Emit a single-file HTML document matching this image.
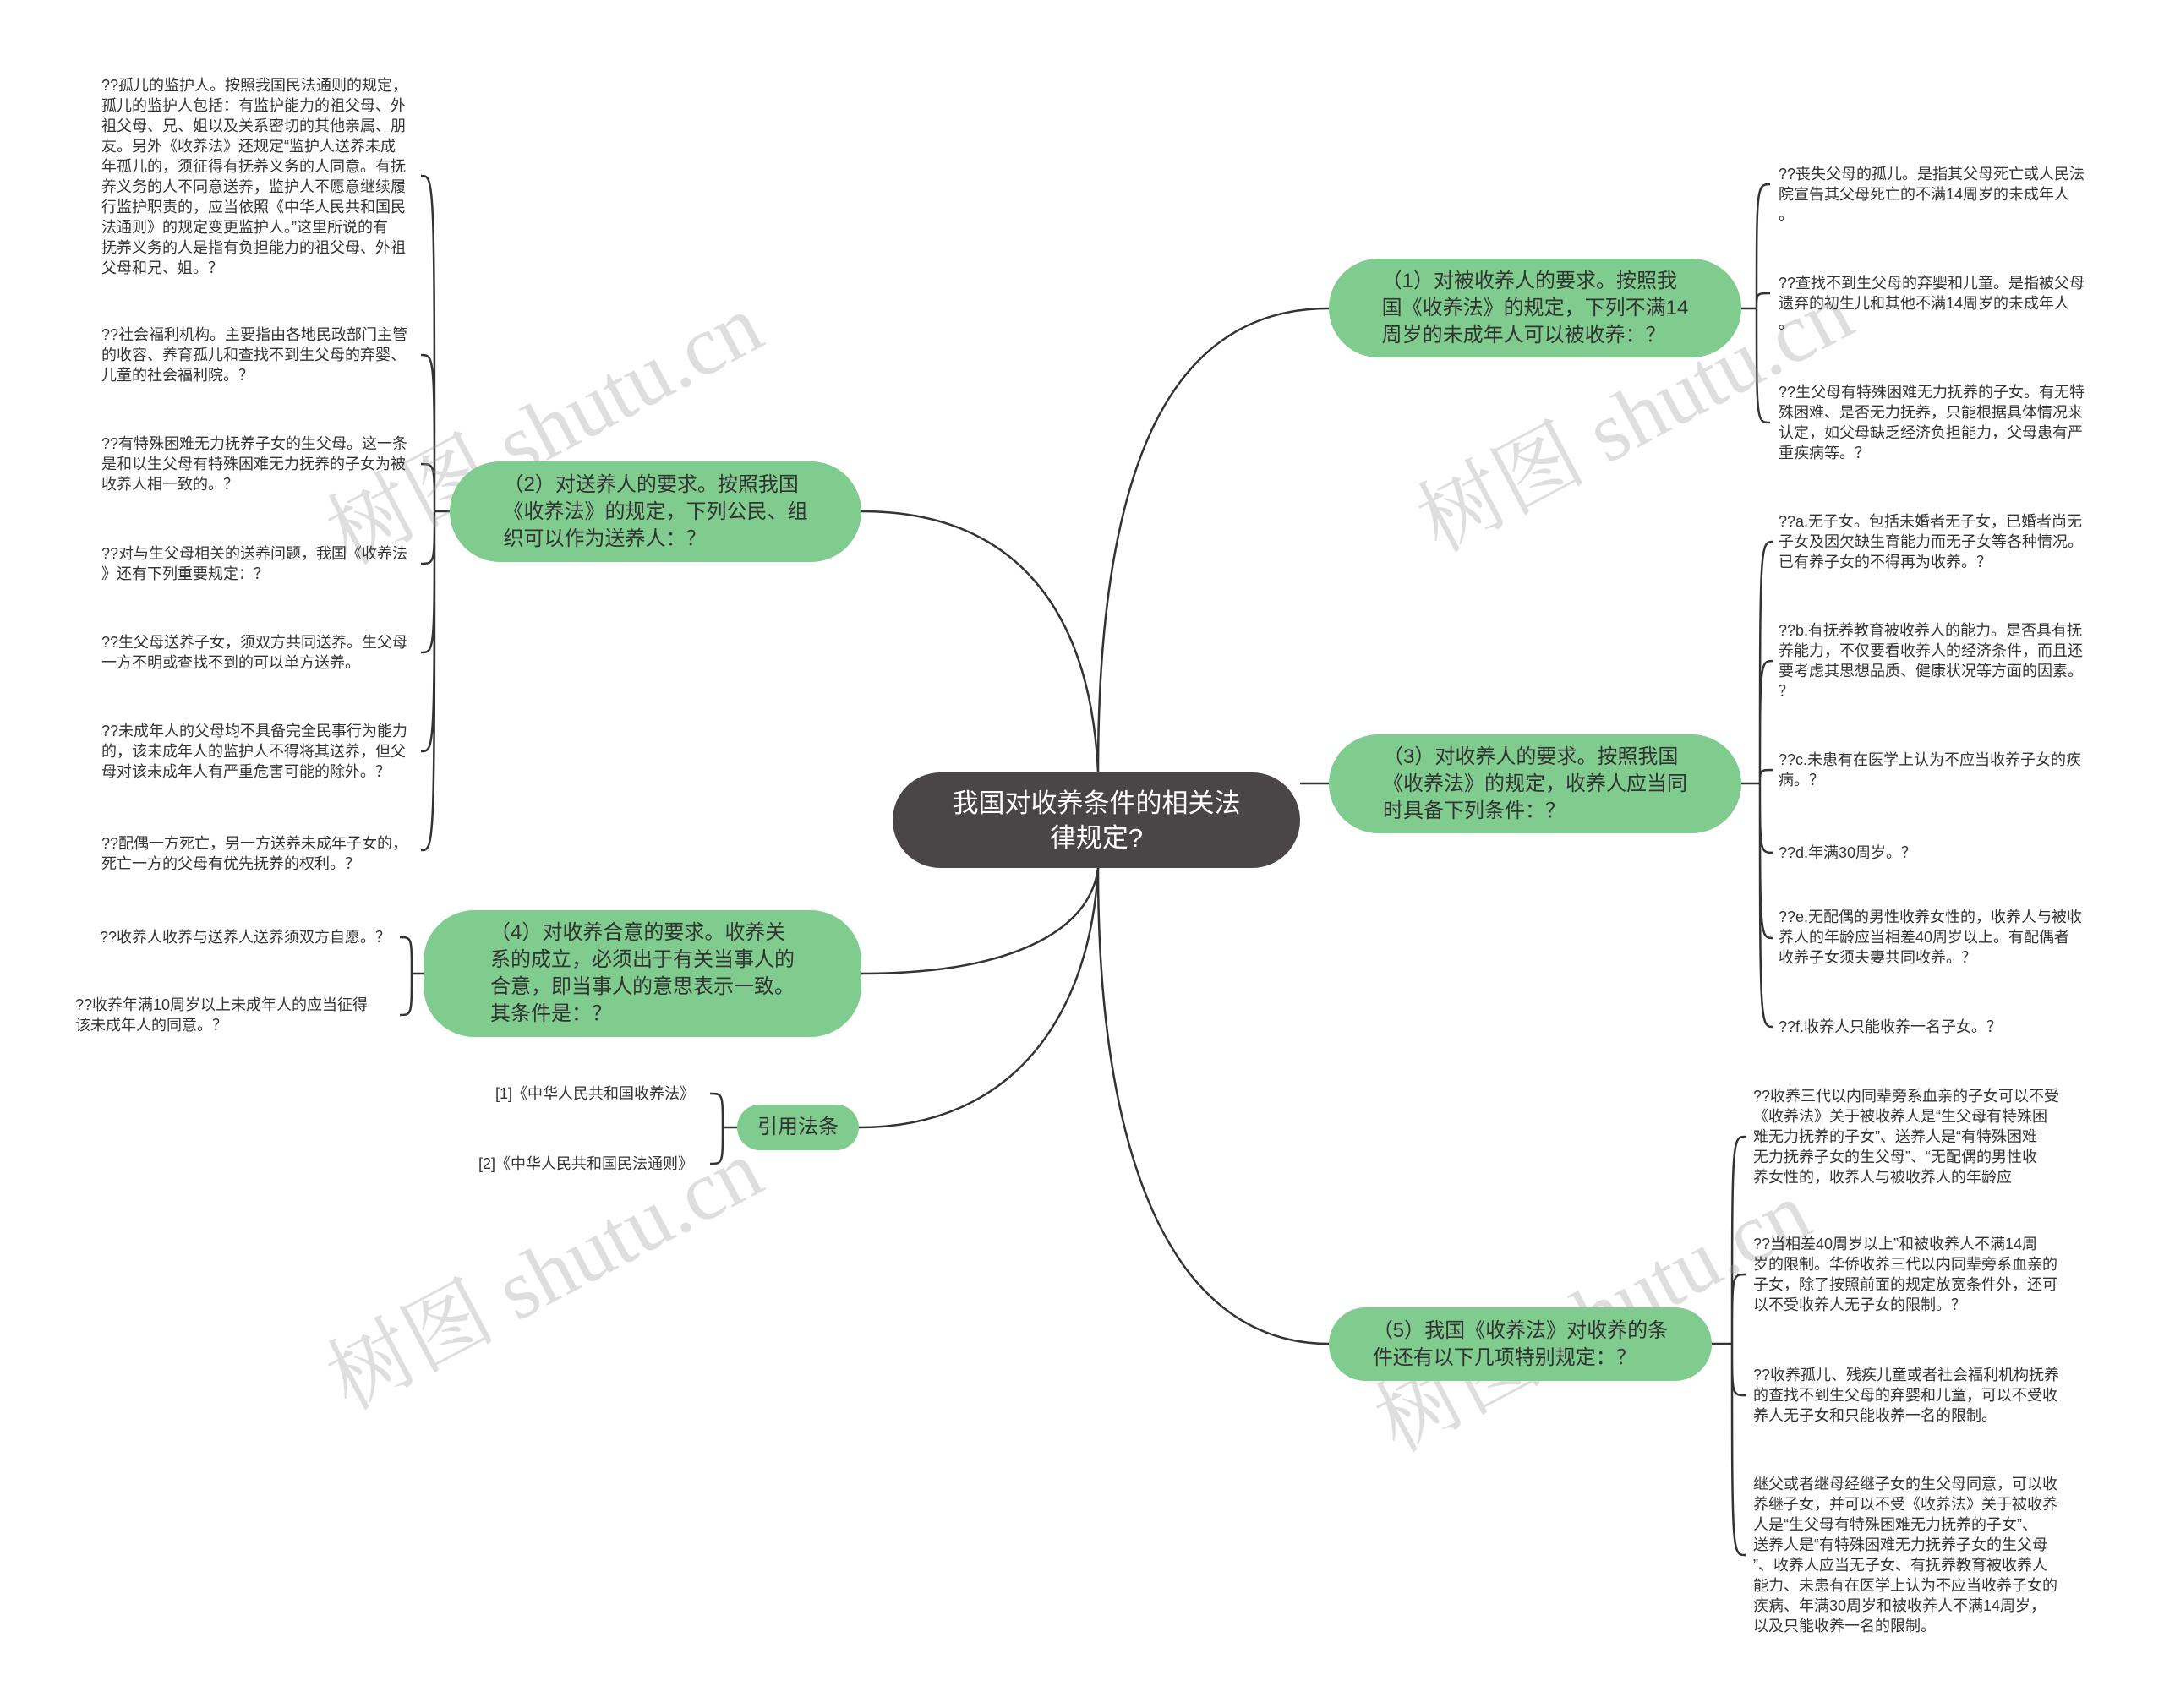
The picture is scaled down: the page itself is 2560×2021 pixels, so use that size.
<!DOCTYPE html>
<html><head><meta charset="utf-8"><style>
body{margin:0;width:2560px;height:2021px;background:#fff;position:relative;overflow:hidden;font-family:"Liberation Sans","Noto Sans CJK SC",sans-serif;color:#333}
.n{position:absolute;background:#80cc8f;border-radius:60px;box-sizing:border-box;display:flex;align-items:center;justify-content:center;font-size:24px;line-height:32px;white-space:nowrap}
.c{position:absolute;left:1056px;top:914px;width:482px;height:113px;background:#4a4546;border-radius:57px;color:#fff;font-size:31px;line-height:41px;text-align:center;display:flex;align-items:center;justify-content:center}
.l{position:absolute;font-size:18px;line-height:24px;white-space:nowrap;color:#333}
.w{position:absolute;font-size:100px;color:rgba(160,160,160,.35);white-space:nowrap;transform:translate(-50%,-50%) rotate(-28deg);font-family:"Liberation Serif","Noto Serif CJK SC",serif}
svg{position:absolute;left:0;top:0}
</style></head><body>
<svg width="2560" height="2021" fill="none" stroke="#333" stroke-width="2.5">
<path d="M1299 914 C1299 520 1400 365 1572 365"/>
<path d="M1538 927 L1572 927"/>
<path d="M1299 1027 C1299 1400 1400 1590 1572 1590"/>
<path d="M1299 914 C1290 720 1200 605 1019 605"/>
<path d="M1299 1027 C1290 1100 1200 1152 1019 1152"/>
<path d="M1299 1027 C1290 1200 1200 1334 1016 1334"/>
<path d="M2060 365 H2078"/>
<path d="M2078 365 C2078 220 2078 218 2094 218 M2078 365 C2078 347 2078 347 2094 347 M2078 365 C2078 500 2078 500 2094 500"/>
<path d="M2060 927 H2082"/>
<path d="M2082 927 C2082 641 2082 641 2098 641 M2082 927 C2082 782 2082 782 2098 782 M2082 927 C2082 911 2082 911 2098 911 M2082 927 C2082 1009 2082 1009 2098 1009 M2082 927 C2082 1110 2082 1110 2098 1110 M2082 927 C2082 1215 2082 1215 2098 1215"/>
<path d="M2025 1590 H2049"/>
<path d="M2049 1590 C2049 1345 2049 1345 2065 1345 M2049 1590 C2049 1508 2049 1508 2065 1508 M2049 1590 C2049 1651 2049 1651 2065 1651 M2049 1590 C2049 1840 2049 1840 2065 1840"/>
<path d="M532 605 H514"/>
<path d="M514 605 C514 208 514 208 498 208 M514 605 C514 420 514 420 498 420 M514 605 C514 549 514 549 498 549 M514 605 C514 667 514 667 498 667 M514 605 C514 772 514 772 498 772 M514 605 C514 889 514 889 498 889 M514 605 C514 1006 514 1006 498 1006"/>
<path d="M501 1152 H487"/>
<path d="M487 1152 C487 1109 487 1109 473 1109 M487 1152 C487 1201 487 1201 473 1201"/>
<path d="M872 1334 H855"/>
<path d="M855 1334 C855 1294 855 1294 840 1294 M855 1334 C855 1377 855 1377 840 1377"/>
</svg>

<div class="w" style="left:640px;top:500px">树图 shutu.cn</div>
<div class="w" style="left:1930px;top:485px">树图 shutu.cn</div>
<div class="w" style="left:640px;top:1500px">树图 shutu.cn</div>
<div class="w" style="left:1880px;top:1550px">树图 shutu.cn</div>

<div class="c">我国对收养条件的相关法<br>律规定?</div>
<div class="n" style="left:1572px;top:306px;width:488px;height:117px"><div>（1）对被收养人的要求。按照我<br>国《收养法》的规定，下列不满14<br>周岁的未成年人可以被收养：？</div></div>
<div class="n" style="left:1572px;top:869px;width:488px;height:117px"><div>（3）对收养人的要求。按照我国<br>《收养法》的规定，收养人应当同<br>时具备下列条件：？</div></div>
<div class="n" style="left:1572px;top:1547px;width:453px;height:87px"><div>（5）我国《收养法》对收养的条<br>件还有以下几项特别规定：？</div></div>
<div class="n" style="left:532px;top:546px;width:487px;height:119px"><div>（2）对送养人的要求。按照我国<br>《收养法》的规定，下列公民、组<br>织可以作为送养人：？</div></div>
<div class="n" style="left:501px;top:1077px;width:518px;height:150px"><div>（4）对收养合意的要求。收养关<br>系的成立，必须出于有关当事人的<br>合意，即当事人的意思表示一致。<br>其条件是：？</div></div>
<div class="n" style="left:872px;top:1307px;width:144px;height:54px;border-radius:27px"><div>引用法条</div></div>

<div class="l" style="left:120px;top:89px">??孤儿的监护人。按照我国民法通则的规定，<br>孤儿的监护人包括：有监护能力的祖父母、外<br>祖父母、兄、姐以及关系密切的其他亲属、朋<br>友。另外《收养法》还规定“监护人送养未成<br>年孤儿的，须征得有抚养义务的人同意。有抚<br>养义务的人不同意送养，监护人不愿意继续履<br>行监护职责的，应当依照《中华人民共和国民<br>法通则》的规定变更监护人。”这里所说的有<br>抚养义务的人是指有负担能力的祖父母、外祖<br>父母和兄、姐。？</div>
<div class="l" style="left:120px;top:384px">??社会福利机构。主要指由各地民政部门主管<br>的收容、养育孤儿和查找不到生父母的弃婴、<br>儿童的社会福利院。？</div>
<div class="l" style="left:120px;top:513px">??有特殊困难无力抚养子女的生父母。这一条<br>是和以生父母有特殊困难无力抚养的子女为被<br>收养人相一致的。？</div>
<div class="l" style="left:120px;top:643px">??对与生父母相关的送养问题，我国《收养法<br>》还有下列重要规定：？</div>
<div class="l" style="left:120px;top:748px">??生父母送养子女，须双方共同送养。生父母<br>一方不明或查找不到的可以单方送养。</div>
<div class="l" style="left:120px;top:853px">??未成年人的父母均不具备完全民事行为能力<br>的，该未成年人的监护人不得将其送养，但父<br>母对该未成年人有严重危害可能的除外。？</div>
<div class="l" style="left:120px;top:986px">??配偶一方死亡，另一方送养未成年子女的，<br>死亡一方的父母有优先抚养的权利。？</div>

<div class="l" style="left:118px;top:1097px">??收养人收养与送养人送养须双方自愿。？</div>
<div class="l" style="left:89px;top:1177px">??收养年满10周岁以上未成年人的应当征得<br>该未成年人的同意。？</div>

<div class="l" style="left:586px;top:1282px">[1]《中华人民共和国收养法》</div>
<div class="l" style="left:566px;top:1365px">[2]《中华人民共和国民法通则》</div>

<div class="l" style="left:2104px;top:194px">??丧失父母的孤儿。是指其父母死亡或人民法<br>院宣告其父母死亡的不满14周岁的未成年人<br>。</div>
<div class="l" style="left:2104px;top:323px">??查找不到生父母的弃婴和儿童。是指被父母<br>遗弃的初生儿和其他不满14周岁的未成年人<br>。</div>
<div class="l" style="left:2104px;top:452px">??生父母有特殊困难无力抚养的子女。有无特<br>殊困难、是否无力抚养，只能根据具体情况来<br>认定，如父母缺乏经济负担能力，父母患有严<br>重疾病等。？</div>

<div class="l" style="left:2104px;top:605px">??a.无子女。包括未婚者无子女，已婚者尚无<br>子女及因欠缺生育能力而无子女等各种情况。<br>已有养子女的不得再为收养。？</div>
<div class="l" style="left:2104px;top:734px">??b.有抚养教育被收养人的能力。是否具有抚<br>养能力，不仅要看收养人的经济条件，而且还<br>要考虑其思想品质、健康状况等方面的因素。<br>？</div>
<div class="l" style="left:2104px;top:887px">??c.未患有在医学上认为不应当收养子女的疾<br>病。？</div>
<div class="l" style="left:2104px;top:997px">??d.年满30周岁。？</div>
<div class="l" style="left:2104px;top:1073px">??e.无配偶的男性收养女性的，收养人与被收<br>养人的年龄应当相差40周岁以上。有配偶者<br>收养子女须夫妻共同收养。？</div>
<div class="l" style="left:2104px;top:1203px">??f.收养人只能收养一名子女。？</div>

<div class="l" style="left:2074px;top:1285px">??收养三代以内同辈旁系血亲的子女可以不受<br>《收养法》关于被收养人是“生父母有特殊困<br>难无力抚养的子女”、送养人是“有特殊困难<br>无力抚养子女的生父母”、“无配偶的男性收<br>养女性的，收养人与被收养人的年龄应</div>
<div class="l" style="left:2074px;top:1460px">??当相差40周岁以上”和被收养人不满14周<br>岁的限制。华侨收养三代以内同辈旁系血亲的<br>子女，除了按照前面的规定放宽条件外，还可<br>以不受收养人无子女的限制。？</div>
<div class="l" style="left:2074px;top:1615px">??收养孤儿、残疾儿童或者社会福利机构抚养<br>的查找不到生父母的弃婴和儿童，可以不受收<br>养人无子女和只能收养一名的限制。</div>
<div class="l" style="left:2074px;top:1744px">继父或者继母经继子女的生父母同意，可以收<br>养继子女，并可以不受《收养法》关于被收养<br>人是“生父母有特殊困难无力抚养的子女”、<br>送养人是“有特殊困难无力抚养子女的生父母<br>”、收养人应当无子女、有抚养教育被收养人<br>能力、未患有在医学上认为不应当收养子女的<br>疾病、年满30周岁和被收养人不满14周岁，<br>以及只能收养一名的限制。</div>
</body></html>
